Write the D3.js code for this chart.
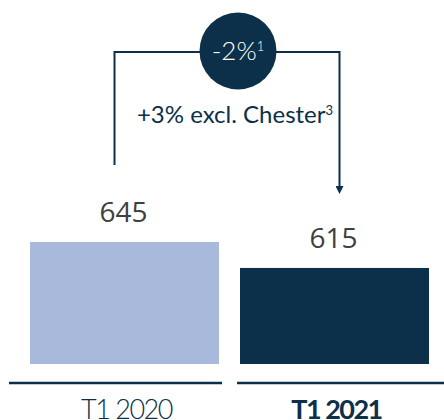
<!DOCTYPE html>
<html>
<head>
<meta charset="utf-8">
<script src="https://cdn.jsdelivr.net/npm/d3@7"></script>
<style>
  body { margin: 0; background: #fff; }
  svg { display: block; }
</style>
</head>
<body>
<div id="chart"></div>
<script>
// data
var categories = ["T1 2020", "T1 2021"];
var values = [645, 615];
var barColors = ["#a8b9db", "#0c3049"];
var changeLabel = "-2%";
var changeNote = "1";
var subLabel = "+3% excl. Chester";
var subNote = "3";

var width = 444, height = 420;
var navy = "#0c3049";

var svg = d3.select("#chart").append("svg")
  .attr("width", width)
  .attr("height", height);

// scales (axis starts above zero in the original)
var x = d3.scaleBand().domain(categories).range([30, 429]).paddingInner(0.1).paddingOuter(0);
var y = d3.scaleLinear().domain([504, 645]).range([364, 242]);

// bars
svg.selectAll(".bar")
  .data(categories)
  .enter().append("rect")
    .attr("class", "bar")
    .attr("x", function(d) { return x(d); })
    .attr("y", function(d, i) { return y(values[i]); })
    .attr("width", x.bandwidth())
    .attr("height", function(d, i) { return y.range()[0] - y(values[i]); })
    .style("fill", function(d, i) { return barColors[i]; });

// value labels
svg.selectAll(".val")
  .data(categories)
  .enter().append("text")
    .attr("class", "val")
    .attr("x", function(d) { return x(d) + x.bandwidth() / 2 - 1; })
    .attr("y", function(d, i) { return y(values[i]) - 20; })
    .attr("text-anchor", "middle")
    .style("font-family", "'Open Sans', sans-serif")
    .style("font-size", "28px")
    .style("fill", "#404040")
    .text(function(d, i) { return values[i]; });

// underlines below each bar
var mid = (x(categories[0]) + x.bandwidth() + x(categories[1])) / 2;
var lines = [[9, mid - 7.5], [mid + 7.5, width]];
svg.selectAll(".uline")
  .data(lines)
  .enter().append("line")
    .attr("x1", function(d) { return d[0]; })
    .attr("x2", function(d) { return d[1]; })
    .attr("y1", 383).attr("y2", 383)
    .style("stroke", navy)
    .style("stroke-width", 2.5);

// category labels
svg.selectAll(".cat")
  .data(categories)
  .enter().append("text")
    .attr("class", "cat")
    .attr("x", function(d) { return x(d) + x.bandwidth() / 2 + 2; })
    .attr("y", 419)
    .attr("text-anchor", "middle")
    .style("font-family", "Lato, sans-serif")
    .style("font-size", "27px")
    .style("font-weight", function(d, i) { return i == 1 ? 700 : 300; })
    .style("letter-spacing", "-1.5px")
    .style("fill", navy)
    .text(function(d) { return d; });

// connector arrow
svg.append("defs").append("marker")
  .attr("id", "arrow")
  .attr("viewBox", "0 0 10 10")
  .attr("refX", 5).attr("refY", 5)
  .attr("markerWidth", 4).attr("markerHeight", 4)
  .attr("orient", "auto")
  .append("path")
    .attr("d", "M0,0L10,5L0,10z")
    .style("fill", navy);

var x1 = x(categories[0]) + x.bandwidth() / 2 - 10;
var x2 = x(categories[1]) + x.bandwidth() / 2 + 5;
var topY = 52;
svg.append("path")
  .attr("d", "M" + x1 + "," + (y(values[0]) - 77)
    + "V" + topY + "H" + x2 + "V" + (y(values[1]) - 78))
  .style("fill", "none")
  .style("stroke", navy)
  .style("stroke-width", 2)
  .attr("marker-end", "url(#arrow)");

// change bubble
var cx = 238;
svg.append("circle")
  .attr("cx", cx).attr("cy", 51).attr("r", 38.5)
  .style("fill", navy);

var t1 = svg.append("text")
  .attr("x", cx).attr("y", 60)
  .attr("text-anchor", "middle")
  .style("font-family", "Lato, sans-serif")
  .style("font-weight", 300)
  .style("font-size", "26px")
  .style("fill", "#fff");
t1.append("tspan").text(changeLabel);
t1.append("tspan").attr("dy", -9).style("font-size", "13px").text(changeNote);

var t2 = svg.append("text")
  .attr("x", 235).attr("y", 123)
  .attr("text-anchor", "middle")
  .style("font-family", "Lato, sans-serif")
  .style("font-weight", 400)
  .style("font-size", "24px")
  .style("fill", navy);
t2.append("tspan").text(subLabel);
t2.append("tspan").attr("dy", -8).style("font-size", "13px").text(subNote);
</script>
</body>
</html>
